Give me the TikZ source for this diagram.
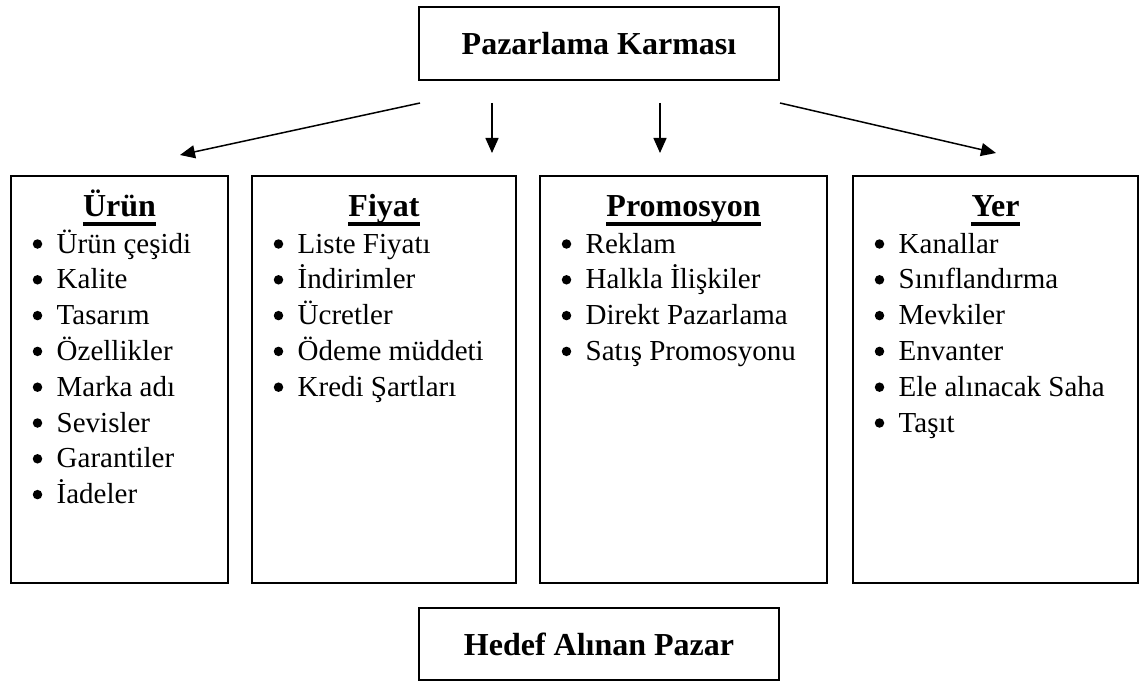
\documentclass[tikz,border=0pt]{standalone}
\usepackage{fontspec}
\setmainfont{Liberation Serif}
\usetikzlibrary{arrows.meta}
\begin{document}
\begin{tikzpicture}[x=1pt,y=-1pt,
  box/.style={draw, line width=1.7pt, inner sep=0pt, outer sep=0pt},
  conn/.style={line width=1.5pt, -{Triangle[length=15pt,width=13pt]}},
  title/.style={font=\fontsize{32}{36}\selectfont\bfseries},
  head/.style={font=\fontsize{32}{36}\selectfont\bfseries, anchor=base, inner sep=0pt},
  dot/.style={circle, fill, inner sep=0pt, minimum size=9.5pt},
  entry/.style={font=\fontsize{29}{34}\selectfont, anchor=base west, inner sep=0pt},
  headline/.style={line width=3.5pt},
]
\useasboundingbox (0,0) rectangle (1144,682);

% top and bottom boxes
\node[box, title, minimum width=360pt, minimum height=73pt] (mix) at (599,43.5) {Pazarlama Karması};
\node[box, title, minimum width=360pt, minimum height=72pt] (target) at (599,644) {Hedef Alınan Pazar};

% the four columns
\node[box, minimum width=217pt, minimum height=407pt] (urun)  at (119.5,379.5) {};
\node[box, minimum width=264pt, minimum height=407pt] (fiyat) at (384,379.5) {};
\node[box, minimum width=287pt, minimum height=407pt] (promo) at (683.5,379.5) {};
\node[box, minimum width=285pt, minimum height=407pt] (yer)   at (995.5,379.5) {};

% column headings with a thick underline
\foreach \n/\x/\t in {urun/119.5/Ürün, fiyat/384/Fiyat, promo/683.5/Promosyon, yer/995.5/Yer}{
  \node[head] (\n-h) at (\x,217) {\t};
  \draw[headline] ([yshift=-6.75pt]\n-h.base west) -- ([yshift=-6.75pt]\n-h.base east);
}

% bulleted entries
\foreach \n/\x/\list in {
  urun/11/{Ürün çeşidi,Kalite,Tasarım,Özellikler,Marka adı,Sevisler,Garantiler,İadeler},
  fiyat/252/{Liste Fiyatı,İndirimler,Ücretler,Ödeme müddeti,Kredi Şartları},
  promo/540/{Reklam,Halkla İlişkiler,Direkt Pazarlama,Satış Promosyonu},
  yer/853/{Kanallar,Sınıflandırma,Mevkiler,Envanter,Ele alınacak Saha,Taşıt}}{
  \foreach \t [count=\i] in \list {
    \node[dot] (\n-b\i) at (\x+26.5,244+35.8*\i-35.8) {};
    \node[entry] (\n-\i) at (\x+45.5,253+35.8*\i-35.8) {\t};
  }
}

% arrows from the marketing mix to the columns
\coordinate (s1) at (420,103);  \coordinate (t1) at (180,155);
\coordinate (s2) at (492,103);  \coordinate (t2) at (492,153);
\coordinate (s3) at (660,103);  \coordinate (t3) at (660,153);
\coordinate (s4) at (780,103);  \coordinate (t4) at (996,153);
\foreach \k in {1,2,3,4}{
  \draw[conn] (s\k) -- (t\k);
}
\end{tikzpicture}
\end{document}
